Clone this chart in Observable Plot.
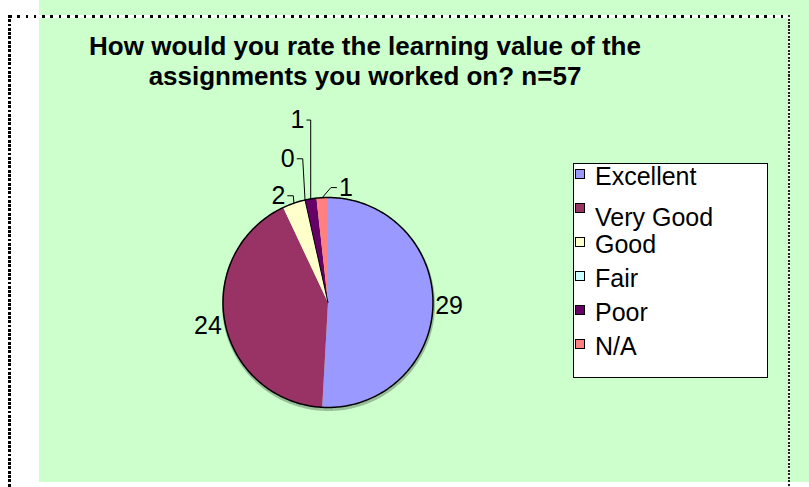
<!DOCTYPE html>
<html><head><meta charset="utf-8">
<script src="https://cdn.jsdelivr.net/npm/d3@7"></script>
<script src="https://cdn.jsdelivr.net/npm/@observablehq/plot@0.6"></script>
<style>
html,body{margin:0;padding:0;background:#fff;}
#frame{position:relative;width:809px;height:487px;overflow:hidden;font-family:"Liberation Sans",Arial,sans-serif;}
#bg{position:absolute;left:39px;top:0;width:770px;height:482px;background:#CCFFCC;}
#topline{position:absolute;left:9px;top:15px;width:781px;height:2.5px;background:repeating-linear-gradient(to right,#000 0 2.5px,#fff 2.5px 8.3px);}
#leftline{position:absolute;left:8px;top:15px;width:3px;height:472px;background:repeating-linear-gradient(to bottom,#000 0 2.8px,#fff 2.8px 4.3px);}
#rightline{position:absolute;left:788px;top:15px;width:1.5px;height:472px;background:repeating-linear-gradient(to bottom,#222 0 2px,#f4f4f4 2px 3.5px);}
#title{position:absolute;left:0;top:31px;width:730px;text-align:center;font-weight:bold;font-size:26px;line-height:30px;color:#000;}
#chart{position:absolute;left:0;top:0;}
#legend{position:absolute;left:573px;top:163px;width:193px;height:213px;background:#fff;border:1px solid #000;}
.item{position:absolute;left:0;height:34px;line-height:34px;font-size:25px;white-space:nowrap;color:#000;}
.sw{position:absolute;left:1px;top:10px;width:10px;height:10px;border:1px solid #000;box-sizing:border-box;}
.lab{position:absolute;left:21px;top:0;}
.item:nth-child(2) .lab{top:7px;}
</style>
</head>
<body>
<div id="frame">
  <div id="bg"></div>
  <div id="topline"></div>
  <div id="leftline"></div>
  <div id="rightline"></div>
  <div id="title"></div>
  <div id="chart"></div>
  <div id="legend"></div>
</div>
<script>
// ---- data ----
const categories = ["Excellent", "Very Good", "Good", "Fair", "Poor", "N/A"];
const counts = [29, 24, 2, 0, 1, 1];
const colors = ["#9999FF", "#993366", "#FFFFCC", "#CCFFFF", "#660066", "#FF8080"];
const titleLines = ["How would you rate the learning value of the", "assignments you worked on? n=57"];

// ---- layout constants ----
const W = 809, H = 487, cx = 327.5, cy = 302, R = 105;
const font = "Liberation Sans, Arial, sans-serif";
const fs = 25, digitW = 0.556 * fs, capH = 0.716 * fs;
const deg = Math.PI / 180;

d3.select("#title").html(titleLines.join("<br>"));

const rows = categories.map((c, i) => ({cat: c, count: counts[i]}));
const total = d3.sum(counts);
const arcs = d3.pie().sort(null).value(d => d.count)(rows);
const pt = (a, rho) => [cx + rho * Math.sin(a), cy - rho * Math.cos(a)];

// slice polygons
const slicePts = [], zeroPts = [];
arcs.forEach(a => {
  const span = a.endAngle - a.startAngle;
  if (span <= 0) {
    const [x, y] = pt(a.startAngle, R);
    zeroPts.push({cat: a.data.cat, x: cx, y: cy}, {cat: a.data.cat, x, y});
    return;
  }
  const n = Math.max(2, Math.ceil(span / deg));
  slicePts.push({cat: a.data.cat, x: cx, y: cy});
  for (let k = 0; k <= n; k++) {
    const [x, y] = pt(a.startAngle + span * k / n, R);
    slicePts.push({cat: a.data.cat, x, y});
  }
  slicePts.push({cat: a.data.cat, x: cx, y: cy});
});
const circlePts = d3.range(0, 361, 1).map(d => { const [x, y] = pt(d * deg, R); return {x, y}; });

// ---- label layout with collision avoidance ----
const boxes = [], segs = [], labelRows = [], leaderPts = [];
const M = 18, M2 = 24, K = 2.5, HC = 6, SIDE = 50;
const boxAt = (x, y, w, h) => ({x0: x - w / 2, x1: x + w / 2, y0: y - h / 2, y1: y + h / 2});
const overlap = (a, b, m) => a.x0 < b.x1 + m && a.x1 > b.x0 - m && a.y0 < b.y1 + m && a.y1 > b.y0 - m;
function segHits(p, q, b, m) {
  for (let t = 0; t <= 1.0001; t += 0.02) {
    const x = p[0] + (q[0] - p[0]) * t, y = p[1] + (q[1] - p[1]) * t;
    if (x > b.x0 - m && x < b.x1 + m && y > b.y0 - m && y < b.y1 + m) return true;
  }
  return false;
}
function clearOfPie(b) {
  const nx = Math.max(b.x0, Math.min(cx, b.x1)), ny = Math.max(b.y0, Math.min(cy, b.y1));
  return Math.hypot(nx - cx, ny - cy) > R + 1;
}
const dds = [0]; for (let d = 3; d <= 36; d += 3) dds.push(d, -d);
arcs.forEach(a => {
  const v = a.data.count, text = String(v);
  const small = v / total < 0.05;
  const mid = (a.startAngle + a.endAngle) / 2;
  const leftHalf = mid > Math.PI;
  const A = pt(mid, R);
  const w = digitW * text.length, h = capH;
  const rho0 = R + 2 + (w / 2) * Math.abs(Math.sin(mid)) + (h / 2) * Math.abs(Math.cos(mid));
  const cands = [];
  for (const dd of dds) for (let dr = 0; dr <= 160; dr += 2) {
    const [x, y] = pt(mid + dd * deg, rho0 + dr);
    cands.push({dd, dr, x, y, cost: dr + K * Math.abs(dd) + (small && (x < A[0]) !== leftHalf ? SIDE : 0)});
  }
  cands.sort((p, q) => p.cost - q.cost);
  let chosen = null;
  for (const c of cands) {
    const b = boxAt(c.x, c.y, w, h);
    if (!clearOfPie(b)) continue;
    if (small && !(b.x1 + HC <= A[0] || b.x0 - HC >= A[0])) continue;
    if (boxes.some(pb => overlap(b, pb, M))) continue;
    if (segs.some(s => segHits(s[0], s[1], b, M2))) continue;
    chosen = {x: c.x, y: c.y, b}; break;
  }
  boxes.push(chosen.b);
  labelRows.push({cat: a.data.cat, x: chosen.x, y: chosen.y, text});
  if (small) {
    const lx = chosen.x, ly = chosen.y, b = chosen.b;
    let path;
    if (lx < A[0]) {
      const sx = b.x1 + 2, ex = Math.min(sx + 6, A[0]);
      path = ex > sx ? [[sx, ly], [ex, ly], A] : [[sx, ly], A];
    } else {
      const sx = b.x0 - 2, ex = Math.max(sx - 6, A[0]);
      path = ex < sx ? [[sx, ly], [ex, ly], A] : [[sx, ly], A];
    }
    for (let i = 0; i + 1 < path.length; i++) segs.push([path[i], path[i + 1]]);
    path.forEach(p => leaderPts.push({cat: a.data.cat, x: p[0], y: p[1]}));
  }
});

const chart = Plot.plot({
  width: W, height: H, margin: 0,
  x: {domain: [0, W], range: [0, W], axis: null},
  y: {domain: [0, H], range: [0, H], axis: null},
  color: {domain: categories, range: colors},
  style: {background: "transparent", overflow: "visible"},
  marks: [
    Plot.line(circlePts, {x: "x", y: "y", stroke: "#000", strokeOpacity: 0.25, strokeWidth: 3, dx: 0.5, dy: 2}),
    Plot.line(slicePts, {x: "x", y: "y", z: "cat", fill: "cat", stroke: "none"}),
    Plot.line(zeroPts, {x: "x", y: "y", z: "cat", stroke: "#000", strokeWidth: 1}),
    Plot.line(circlePts, {x: "x", y: "y", stroke: "#000", strokeWidth: 1.5}),
    Plot.line(leaderPts, {x: "x", y: "y", z: "cat", stroke: "#000", strokeWidth: 1, strokeLinecap: "butt", strokeLinejoin: "miter"}),
    Plot.text(labelRows, {x: "x", y: "y", text: "text", fontSize: fs, fontFamily: font, fill: "#000", textAnchor: "middle"})
  ]
});
document.getElementById("chart").appendChild(chart);

// legend
const legend = d3.select("#legend");
categories.forEach((c, i) => {
  const item = legend.append("div").attr("class", "item").style("top", (-4.7 + 34 * i) + "px");
  item.append("div").attr("class", "sw").style("background", colors[i]);
  item.append("span").attr("class", "lab").text(c);
});
</script>
</body></html>
